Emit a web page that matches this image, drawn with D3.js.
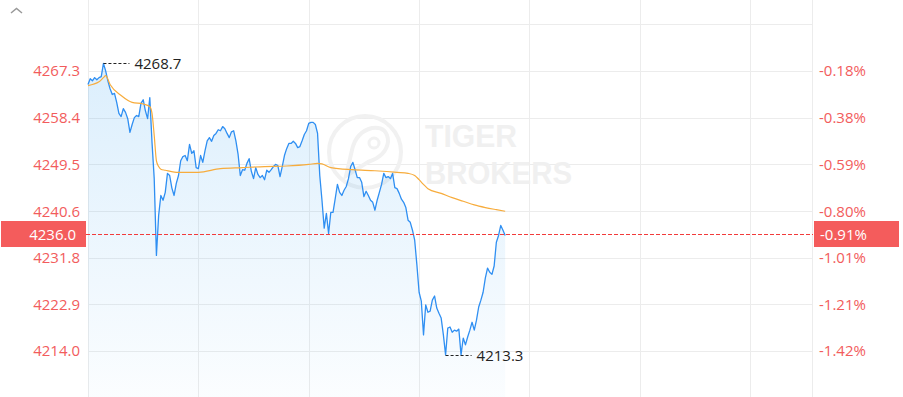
<!DOCTYPE html>
<html>
<head>
<meta charset="utf-8">
<script src="https://cdn.jsdelivr.net/npm/d3@7"></script>
<style>
  html, body { margin: 0; padding: 0; background: #fff; }
  svg { display: block; font-family: "Open Sans", "Noto Sans", sans-serif; }
</style>
</head>
<body>
<div id="chart"></div>
<script>
// one price per minute
const prices = [
  4264.7, 4265.8, 4265.4, 4266.0, 4265.6, 4266.0, 4266.2, 4268.7, 4267.3, 4265.4,
  4263.9, 4262.8, 4263.0, 4261.3, 4259.2, 4258.6, 4260.1, 4259.4, 4258.2, 4255.6,
  4257.1, 4258.4, 4258.8, 4258.6, 4261.1, 4261.8, 4259.7, 4258.2, 4262.2, 4253.7,
  4246.8, 4232.2, 4239.8, 4243.6, 4242.7, 4244.2, 4247.8, 4247.4, 4245.0, 4243.6,
  4245.9, 4247.4, 4250.2, 4251.0, 4251.2, 4250.2, 4253.3, 4251.6, 4252.1, 4248.9,
  4248.7, 4251.2, 4249.9, 4252.1, 4254.0, 4254.6, 4253.9, 4255.0, 4255.4, 4256.1,
  4255.9, 4256.7, 4256.3, 4255.4, 4254.6, 4255.7, 4255.9, 4254.0, 4251.4, 4247.4,
  4248.5, 4248.4, 4249.7, 4250.6, 4248.2, 4246.8, 4248.9, 4247.6, 4247.0, 4247.4,
  4246.6, 4248.4, 4248.0, 4248.5, 4249.1, 4249.5, 4249.3, 4247.2, 4249.1, 4251.2,
  4252.5, 4253.5, 4253.5, 4253.9, 4253.5, 4252.7, 4252.9, 4254.0, 4255.2, 4255.9,
  4257.3, 4257.5, 4257.5, 4257.1, 4255.4, 4247.4, 4242.7, 4237.4, 4240.2, 4236.4,
  4240.4, 4240.4, 4243.0, 4245.7, 4244.2, 4243.6, 4244.6, 4245.3, 4246.8, 4249.1,
  4249.9, 4248.5, 4247.0, 4247.0, 4246.1, 4243.4, 4244.4, 4243.6, 4242.7, 4242.3,
  4240.8, 4242.7, 4244.2, 4245.7, 4247.8, 4247.0, 4247.2, 4246.8, 4247.8, 4245.1,
  4244.9, 4244.0, 4242.9, 4242.3, 4241.3, 4238.9, 4238.5, 4237.0, 4235.1, 4230.4,
  4225.2, 4223.5, 4217.1, 4222.8, 4221.4, 4221.6, 4223.7, 4224.5, 4222.2, 4221.2,
  4220.3, 4217.1, 4213.3, 4218.4, 4218.6, 4217.6, 4218.0, 4217.8, 4218.2, 4213.3,
  4216.5, 4215.2, 4216.7, 4218.0, 4219.5, 4218.0, 4219.9, 4222.4, 4223.7, 4225.2,
  4227.9, 4229.8, 4229.0, 4228.6, 4230.2, 4234.7, 4236.0, 4237.9, 4237.0, 4236.0
]

// average price line, sampled at these minutes
const avgMinutes = [0, 5, 7, 8, 10, 15, 20, 25, 28, 29, 30, 31, 32, 33, 35, 40, 50, 60, 70, 80,
  90, 100, 104, 106, 110, 120, 130, 140, 145, 148, 150, 152, 154, 160, 165, 170, 175, 180, 185, 189]
const avgPrices = [4264.5, 4265.2, 4266.0, 4266.4, 4264.7, 4262.6, 4261.3, 4261.0, 4260.5, 4259.2,
  4255.0, 4250.2, 4249.1, 4248.6, 4248.4, 4248.0, 4248.0, 4248.7, 4248.9, 4249.1,
  4249.2, 4249.5, 4249.7, 4249.6, 4248.9, 4248.5, 4248.3, 4248.0, 4247.8, 4247.4,
  4246.6, 4245.7, 4244.9, 4244.0, 4243.2, 4242.5, 4241.8, 4241.3, 4240.9, 4240.6]

const priceTicks = [4267.3, 4258.4, 4249.5, 4240.6, 4231.8, 4222.9, 4214.0]
const pctTicks = ["-0.18%", "-0.38%", "-0.59%", "-0.80%", "-1.01%", "-1.21%", "-1.42%"]
const gridTop = 4276.2
const gridBottom = 4205.1
const timeGrid = [0, 50, 100, 150, 200, 250, 300]
const sessionLength = 328
const prevClose = 4274.9

const width = 903
const height = 397
const plotLeft = 88
const plotRight = 812
const plotTop = 24
const plotBottom = 398

const red = "#f25c5c"
const blue = "#2f8ff2"
const orange = "#f7ac3c"
const gridColor = "#ececec"

const x = d3.scaleLinear().domain([0, sessionLength]).range([plotLeft, plotRight])
const y = d3.scaleLinear().domain([gridBottom, gridTop]).range([plotBottom, plotTop])
const crisp = v => Math.round(v) + 0.5

const svg = d3.select("#chart")
  .append("svg")
  .attr("width", width)
  .attr("height", height)

const defs = svg.append("defs")
const grad = defs.append("linearGradient")
  .attr("id", "fill")
  .attr("x1", 0).attr("y1", 0).attr("x2", 0).attr("y2", 1)
grad.append("stop").attr("offset", "0%").attr("stop-color", "#2f9ef0").attr("stop-opacity", 0.17)
grad.append("stop").attr("offset", "100%").attr("stop-color", "#2f9ef0").attr("stop-opacity", 0.02)

// grid
const grid = svg.append("g")
grid.selectAll(".h")
  .data([gridTop, ...priceTicks])
  .join("line")
  .attr("x1", plotLeft).attr("x2", plotRight + 1)
  .attr("y1", d => crisp(y(d))).attr("y2", d => crisp(y(d)))
  .attr("stroke", gridColor)
grid.selectAll(".v")
  .data([...timeGrid, sessionLength])
  .join("line")
  .attr("x1", d => crisp(x(d))).attr("x2", d => crisp(x(d)))
  .attr("y1", 0).attr("y2", height)
  .attr("stroke", gridColor)

// watermark
const wm = svg.append("g").attr("fill", "none").attr("stroke", "#f1f1f1")
wm.append("circle").attr("cx", 365).attr("cy", 152).attr("r", 36).attr("stroke-width", 4)
wm.append("path")
  .attr("d", "M346,176 L352,150 Q356,132 372,128 Q388,126 388,142 Q386,156 368,162 Z")
  .attr("stroke-width", 4)
wm.append("circle").attr("cx", 374).attr("cy", 143).attr("r", 5).attr("stroke-width", 3)
;[["TIGER", 146.5, 92], ["BROKERS", 183.5, 147]].forEach(([word, by, len]) => {
  svg.append("text")
    .attr("x", 425).attr("y", by)
    .attr("font-family", "'Liberation Sans', sans-serif")
    .attr("font-size", 32).attr("font-weight", "bold")
    .attr("textLength", len).attr("lengthAdjust", "spacingAndGlyphs")
    .attr("fill", "#f0f0f0")
    .text(word)
})

// area + line
const area = d3.area()
  .x((d, i) => x(i))
  .y0(height)
  .y1(d => y(d))
svg.append("path")
  .datum(prices)
  .attr("d", area)
  .attr("fill", "url(#fill)")

const line = d3.line()
  .x((d, i) => x(i))
  .y(d => y(d))
svg.append("path")
  .datum(prices)
  .attr("d", line)
  .attr("fill", "none")
  .attr("stroke", blue)
  .attr("stroke-width", 1.3)
  .attr("stroke-linejoin", "round")

const avgLine = d3.line()
  .x((d, i) => x(avgMinutes[i]))
  .y(d => y(d))
  .curve(d3.curveMonotoneX)
svg.append("path")
  .datum(avgPrices)
  .attr("d", avgLine)
  .attr("fill", "none")
  .attr("stroke", orange)
  .attr("stroke-width", 1.2)

// axis labels
svg.append("g")
  .selectAll("text")
  .data(priceTicks)
  .join("text")
  .attr("x", 80)
  .attr("y", d => y(d))
  .attr("dy", "0.35em")
  .attr("text-anchor", "end")
  .attr("font-size", 15)
  .attr("fill", red)
  .text(d => d.toFixed(1))

svg.append("g")
  .selectAll("text")
  .data(pctTicks)
  .join("text")
  .attr("x", 819)
  .attr("y", (d, i) => y(priceTicks[i]))
  .attr("dy", "0.35em")
  .attr("font-size", 15)
  .attr("fill", red)
  .text(d => d)

// high / low markers
const hiIdx = d3.maxIndex(prices)
const loIdx = d3.minIndex(prices)
;[hiIdx, loIdx].forEach(i => {
  const px = x(i), py = crisp(y(prices[i]))
  svg.append("line")
    .attr("x1", px).attr("x2", px + 26)
    .attr("y1", py).attr("y2", py)
    .attr("stroke", "#222")
    .attr("stroke-dasharray", "3,2")
  svg.append("text")
    .attr("x", px + 31)
    .attr("y", py)
    .attr("dy", "0.35em")
    .attr("font-size", 15)
    .attr("fill", "#222")
    .text(prices[i].toFixed(1))
})

// last price
const last = prices[prices.length - 1]
const ly = crisp(y(last)) - 1
svg.append("line")
  .attr("x1", 86).attr("x2", plotRight + 1)
  .attr("y1", ly).attr("y2", ly)
  .attr("stroke", "#f23b3b")
  .attr("stroke-dasharray", "4,2")
svg.append("rect")
  .attr("x", 1).attr("y", ly - 13.5)
  .attr("width", 85).attr("height", 26)
  .attr("fill", "#f45c5c")
svg.append("text")
  .attr("x", 76).attr("y", ly)
  .attr("dy", "0.35em")
  .attr("text-anchor", "end")
  .attr("font-size", 15)
  .attr("fill", "#fff")
  .text(last.toFixed(1))
svg.append("rect")
  .attr("x", plotRight + 2).attr("y", ly - 13.5)
  .attr("width", 85).attr("height", 26)
  .attr("fill", "#f45c5c")
svg.append("text")
  .attr("x", 820).attr("y", ly)
  .attr("dy", "0.35em")
  .attr("font-size", 15)
  .attr("fill", "#fff")
  .text(((last / prevClose - 1) * 100).toFixed(2) + "%")

// collapse caret
svg.append("path")
  .attr("d", "M11,13 L16.5,8.5 L22,13")
  .attr("fill", "none")
  .attr("stroke", "#999")
  .attr("stroke-width", 1.5)
</script>
</body>
</html>
